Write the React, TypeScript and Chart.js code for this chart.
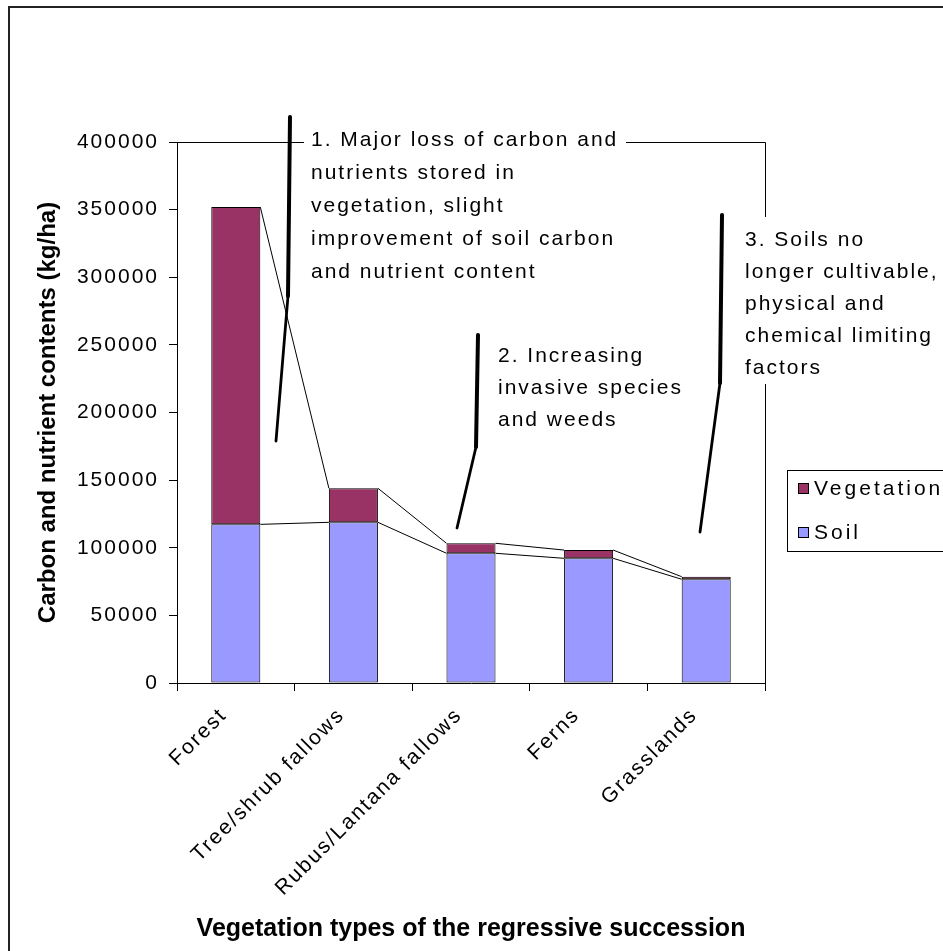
import React, { useEffect, useRef } from 'react';
import { Chart, registerables } from 'chart.js';

Chart.register(...registerables);

// ---------- data ----------
const categories = ['Forest', 'Tree/shrub fallows', 'Rubus/Lantana fallows', 'Ferns', 'Grasslands'];
const soilValues = [117300, 118800, 95900, 92200, 76700];
const vegetationValues = [234600, 25200, 7400, 6100, 1900];
const yMin = 0;
const yMax = 400000;
const yStep = 50000;
const seriesLabels = ['Soil', 'Vegetation'];
const seriesColors = ['#9999FF', '#993366'];
const yTitle = 'Carbon and nutrient contents (kg/ha)';
const xTitle = 'Vegetation types of the regressive succession';
const note1 = [
  '1. Major loss of carbon and',
  'nutrients stored in',
  'vegetation, slight',
  'improvement of soil carbon',
  'and nutrient content',
];
const note2 = ['2. Increasing', 'invasive species', 'and weeds'];
const note3 = ['3. Soils no', 'longer cultivable,', 'physical and', 'chemical limiting', 'factors'];

// ---------- layout / style ----------
const W = 943;
const H = 951;
const FONT = '"Liberation Sans", Arial, Helvetica, sans-serif';
const PLOT_TOP = 142;
const PLOT_RIGHT = 765;
const PLOT_BOTTOM = 683;
const Y_AXIS_W = 177;

const notes = [
  { lines: note1, x: 311, y: 140, lh: 33, box: { x: 304, y: 124, w: 322, h: 176 } },
  { lines: note2, x: 498, y: 356, lh: 32, box: null },
  { lines: note3, x: 745, y: 240, lh: 32, box: { x: 740, y: 217, w: 203, h: 167 } },
];

const strokes = [
  { pts: [[290, 117], [288, 296], [276, 441]], w: [4, 2.8] },
  { pts: [[478, 335], [476, 447], [457, 528]], w: [4, 2.8] },
  { pts: [[722, 215], [720, 383], [700, 532]], w: [4, 2.8] },
];

const decorPlugin = {
  id: 'decor',
  beforeDraw(chart: any) {
    const ctx = chart.ctx;
    ctx.letterSpacing = '0px';
    ctx.save();
    ctx.fillStyle = '#ffffff';
    ctx.fillRect(0, 0, chart.width, chart.height);
    // outer frame (cropped at right and bottom)
    ctx.strokeStyle = '#222';
    ctx.lineWidth = 2;
    ctx.beginPath();
    ctx.moveTo(9, H);
    ctx.lineTo(9, 7);
    ctx.lineTo(W, 7);
    ctx.stroke();
    ctx.restore();
  },
  beforeDatasetsDraw(chart: any) {
    const ctx = chart.ctx;
    const a = chart.chartArea;
    ctx.save();
    ctx.strokeStyle = '#000';
    ctx.lineWidth = 1;
    ctx.beginPath();
    ctx.moveTo(Math.round(a.left) + 0.5, Math.round(a.top) + 0.5);
    ctx.lineTo(Math.round(a.right) + 0.5, Math.round(a.top) + 0.5);
    ctx.lineTo(Math.round(a.right) + 0.5, Math.round(a.bottom) + 0.5);
    ctx.stroke();
    ctx.restore();
  },
  afterDatasetsDraw(chart: any) {
    const ctx = chart.ctx;
    ctx.save();
    // series lines connecting stacked tops
    ctx.strokeStyle = '#000';
    ctx.lineWidth = 1;
    chart.data.datasets.forEach((_ds: any, di: number) => {
      const meta = chart.getDatasetMeta(di);
      for (let i = 0; i < meta.data.length - 1; i++) {
        const p = meta.data[i].getProps(['x', 'y', 'width'], true);
        const q = meta.data[i + 1].getProps(['x', 'y', 'width'], true);
        ctx.beginPath();
        ctx.moveTo(p.x + p.width / 2, p.y);
        ctx.lineTo(q.x - q.width / 2, q.y);
        ctx.stroke();
      }
    });
    // note boxes and text
    ctx.letterSpacing = '2px';
    ctx.font = `21px ${FONT}`;
    ctx.textBaseline = 'middle';
    ctx.textAlign = 'left';
    notes.forEach((n) => {
      if (n.box) {
        ctx.fillStyle = '#fff';
        ctx.fillRect(n.box.x, n.box.y, n.box.w, n.box.h);
      }
      ctx.fillStyle = '#000';
      n.lines.forEach((t, i) => ctx.fillText(t, n.x, n.y + i * n.lh));
    });
    // hand-drawn pointer strokes
    ctx.strokeStyle = '#000';
    ctx.lineCap = 'round';
    strokes.forEach((s) => {
      for (let i = 0; i < s.pts.length - 1; i++) {
        ctx.lineWidth = s.w[i];
        ctx.beginPath();
        ctx.moveTo(s.pts[i][0], s.pts[i][1]);
        ctx.lineTo(s.pts[i + 1][0], s.pts[i + 1][1]);
        ctx.stroke();
      }
    });
    // legend
    ctx.lineCap = 'butt';
    ctx.lineWidth = 1;
    ctx.fillStyle = '#fff';
    ctx.fillRect(787, 470, 160, 82);
    ctx.strokeStyle = '#000';
    ctx.strokeRect(787.5, 470.5, 170, 81);
    ctx.letterSpacing = '3px';
    const order = [1, 0];
    order.forEach((di, k) => {
      const ds = chart.data.datasets[di];
      const cy = 489 + k * 44;
      ctx.fillStyle = ds.backgroundColor;
      ctx.fillRect(798, cy - 6, 11, 11);
      ctx.strokeStyle = '#000';
      ctx.strokeRect(798.5, cy - 5.5, 10, 10);
      ctx.fillStyle = '#000';
      ctx.fillText(ds.label, 814, cy);
    });
    ctx.restore();
    // tick labels are drawn after this hook (ticks.z = 1): give them the same spaced look
    ctx.letterSpacing = '2px';
  },
  afterDraw(chart: any) {
    chart.ctx.letterSpacing = '0px';
  },
};

export default function App() {
  const ref = useRef<HTMLCanvasElement | null>(null);

  useEffect(() => {
    if (!ref.current) return;
    const chart = new Chart(ref.current, {
      type: 'bar',
      data: {
        labels: categories,
        datasets: [
          {
            label: seriesLabels[0],
            data: soilValues,
            backgroundColor: seriesColors[0],
            borderColor: '#000',
            borderWidth: 1,
            borderSkipped: false,
          },
          {
            label: seriesLabels[1],
            data: vegetationValues,
            backgroundColor: seriesColors[1],
            borderColor: '#000',
            borderWidth: 1,
            borderSkipped: false,
          },
        ],
      },
      options: {
        responsive: false,
        animation: false,
        devicePixelRatio: 1,
        layout: { padding: { left: 0, top: PLOT_TOP, right: W - PLOT_RIGHT, bottom: 0 } },
        plugins: { legend: { display: false }, tooltip: { enabled: false }, title: { display: false } },
        datasets: { bar: { categoryPercentage: 1, barPercentage: 0.417 } },
        scales: {
          x: {
            stacked: true,
            offset: true,
            grid: { offset: true, drawOnChartArea: false, drawTicks: true, tickLength: 8, color: '#000', lineWidth: 1 },
            border: { display: true, color: '#000', width: 1 },
            ticks: {
              z: 1,
              autoSkip: false,
              minRotation: 45,
              maxRotation: 45,
              padding: 12,
              labelOffset: -12,
              color: '#000',
              font: { family: FONT, size: 21 },
            },
            title: {
              display: true,
              text: xTitle,
              color: '#000',
              font: { family: FONT, size: 25, weight: 'bold' },
              padding: { top: 0, bottom: 7 },
            },
            afterFit: (s: any) => {
              s.height = H - PLOT_BOTTOM;
            },
          },
          y: {
            stacked: true,
            min: yMin,
            max: yMax,
            grid: { drawOnChartArea: false, drawTicks: true, tickLength: 8, color: '#000', lineWidth: 1 },
            border: { display: true, color: '#000', width: 1 },
            ticks: {
              z: 1,
              stepSize: yStep,
              padding: 10,
              color: '#000',
              font: { family: FONT, size: 21 },
              callback: (v: any) => String(v),
            },
            title: {
              display: true,
              text: yTitle,
              color: '#000',
              font: { family: FONT, size: 24, weight: 'bold' },
              padding: { top: 34, bottom: 0 },
            },
            afterFit: (s: any) => {
              s.width = Y_AXIS_W;
            },
          },
        },
      },
      plugins: [decorPlugin],
    } as any);
    return () => chart.destroy();
  }, []);

  return (
    <div style={{ position: 'absolute', left: 0, top: 0, width: W, height: H, background: '#fff' }}>
      <canvas ref={ref} width={W} height={H} style={{ display: 'block', width: W, height: H }} />
    </div>
  );
}
